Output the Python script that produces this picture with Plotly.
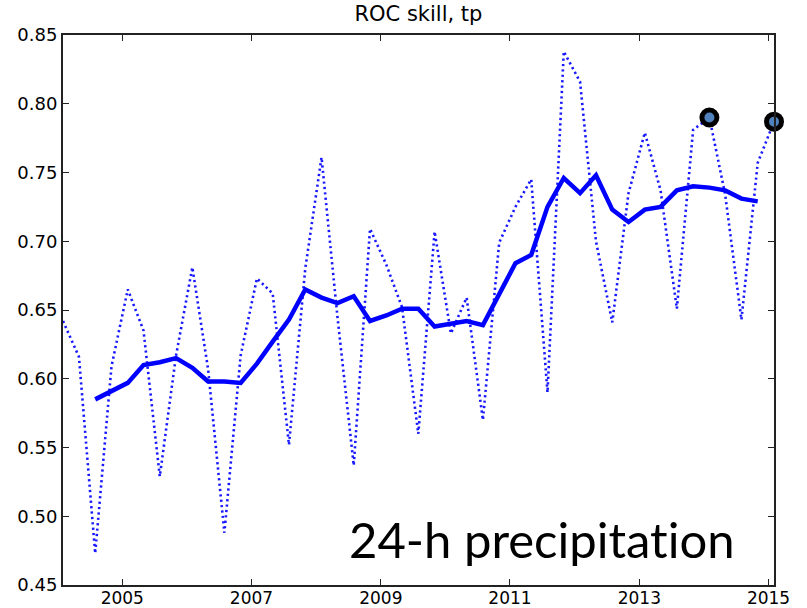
import pandas as pd
import plotly.graph_objects as go

# Quarterly ROC skill scores for 24-h total precipitation (tp)
quarter_start = "2004-02-01"
roc_quarterly = [
    0.642, 0.616, 0.473, 0.609, 0.665, 0.635, 0.529, 0.617, 0.681,
    0.607, 0.488, 0.617, 0.673, 0.662, 0.552, 0.680, 0.761, 0.645,
    0.537, 0.709, 0.683, 0.652, 0.560, 0.707, 0.633, 0.659, 0.570,
    0.699, 0.725, 0.745, 0.590, 0.838, 0.816, 0.700, 0.641, 0.735,
    0.779, 0.737, 0.651, 0.781, 0.790, 0.734, 0.643, 0.757, 0.787,
]
# Running annual mean, defined from the 3rd to the 44th quarter
roc_annual_mean = [
    0.585, 0.591, 0.597, 0.610, 0.612, 0.615, 0.608, 0.598, 0.598,
    0.597, 0.611, 0.627, 0.643, 0.665, 0.659, 0.655, 0.660, 0.642,
    0.646, 0.651, 0.651, 0.638, 0.640, 0.642, 0.639, 0.662, 0.684,
    0.690, 0.725, 0.746, 0.735, 0.748, 0.723, 0.714, 0.723, 0.725,
    0.737, 0.740, 0.739, 0.737, 0.731, 0.729,
]
mean_offset = 2
highlight_idx = [40, 44]

year_ticks = [2005, 2007, 2009, 2011, 2013, 2015]
y_ticks = [0.45, 0.50, 0.55, 0.60, 0.65, 0.70, 0.75, 0.80, 0.85]

dates = pd.date_range(quarter_start, periods=len(roc_quarterly), freq="3MS")
mean_dates = dates[mean_offset:mean_offset + len(roc_annual_mean)]

BLUE = "#0000ff"
AXIS = "#222222"
Y_TICK_FONT = dict(family="DejaVu Sans", size=18, color="#000000")
X_TICK_FONT = dict(family="DejaVu Sans", size=17, color="#000000")

fig = go.Figure()
fig.add_trace(go.Scatter(
    x=dates, y=roc_quarterly, mode="lines",
    line=dict(color=BLUE, width=2.6, dash="2.2px,3.2px"),
    opacity=0.9, showlegend=False,
))
fig.add_trace(go.Scatter(
    x=mean_dates, y=roc_annual_mean, mode="lines",
    line=dict(color=BLUE, width=4.5), showlegend=False,
))
fig.add_trace(go.Scatter(
    x=[dates[i] for i in highlight_idx],
    y=[roc_quarterly[i] for i in highlight_idx],
    mode="markers",
    marker=dict(size=15, color="#4f81bd", line=dict(color="#000000", width=5)),
    cliponaxis=False, showlegend=False,
))

# plain letters, no typographic ligatures
label = '<span style="font-variant-ligatures:none">24-h precipitation</span>'

fig.update_layout(
    width=807, height=608,
    margin=dict(l=63, r=33, t=35, b=23),
    paper_bgcolor="white", plot_bgcolor="white",
    title=dict(text="ROC skill, tp", x=0.5185, xanchor="center", y=0.989, yanchor="top",
               font=dict(family="DejaVu Sans", size=21, color="#000000")),
    annotations=[dict(
        text=label, xref="paper", yref="paper",
        x=0.948, y=0.083, xanchor="right", yanchor="middle", showarrow=False,
        font=dict(family="Lato", size=49, color="#000000"),
    )],
)
fig.update_xaxes(
    range=[dates[0], dates[-1]],
    tickvals=[pd.Timestamp(f"{y}-01-01") for y in year_ticks],
    ticktext=[str(y) for y in year_ticks],
    ticks="inside", ticklen=6, tickwidth=1, tickcolor=AXIS,
    showline=True, linecolor=AXIS, linewidth=2, mirror="ticks",
    showgrid=False, zeroline=False, tickfont=X_TICK_FONT,
    ticklabelstandoff=-3, automargin=False,
)
fig.update_yaxes(
    range=[0.45, 0.85], tickvals=y_ticks,
    ticktext=[f"{v:.2f}" for v in y_ticks],
    ticks="inside", ticklen=6, tickwidth=1, tickcolor=AXIS,
    showline=True, linecolor=AXIS, linewidth=2, mirror="ticks",
    showgrid=False, zeroline=False, tickfont=Y_TICK_FONT,
    automargin=False,
)

fig.write_html("out.html")
